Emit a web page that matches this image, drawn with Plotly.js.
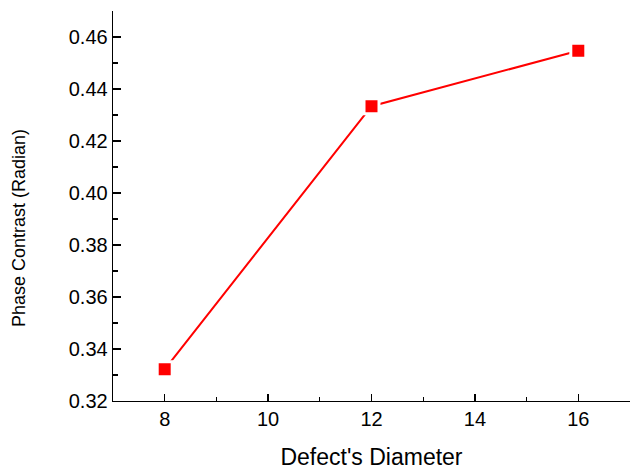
<!DOCTYPE html>
<html>
<head>
<meta charset="utf-8">
<script src="https://cdn.plot.ly/plotly-3.0.1.min.js"></script>
<style>html,body{margin:0;padding:0;background:#fff;}#chart{width:630px;height:471px;}</style>
</head>
<body>
<div id="chart"></div>
<script>
const diameters = [8, 12, 16];
const phaseContrast = [0.3322, 0.4334, 0.4547];
const xTickVals = [8, 10, 12, 14, 16];
const yTickVals = [0.32, 0.34, 0.36, 0.38, 0.40, 0.42, 0.44, 0.46];
const yTickText = ['0.32', '0.34', '0.36', '0.38', '0.40', '0.42', '0.44', '0.46'];
const xTitle = "Defect's Diameter";
const yTitle = 'Phase Contrast (Radian)';

const lineTrace = {
  x: diameters,
  y: phaseContrast,
  type: 'scatter',
  mode: 'lines',
  line: {color: '#ff0000', width: 2},
  showlegend: false
};
const markerTrace = {
  x: diameters,
  y: phaseContrast,
  type: 'scatter',
  mode: 'markers',
  marker: {symbol: 'square', size: 15, color: '#ff0000', line: {color: '#ffffff', width: 3}},
  cliponaxis: false,
  showlegend: false
};

const layout = {
  width: 630,
  height: 471,
  margin: {l: 113, r: 0, t: 11, b: 70},
  paper_bgcolor: '#ffffff',
  plot_bgcolor: '#ffffff',
  font: {family: 'Liberation Sans, Arial, sans-serif', color: '#000000'},
  xaxis: {
    range: [7, 17],
    tickvals: xTickVals,
    ticks: 'inside',
    ticklen: 7,
    tickwidth: 1.3,
    tickcolor: '#000',
    showline: true,
    linecolor: '#000',
    linewidth: 1.3,
    showgrid: false,
    zeroline: false,
    tickfont: {size: 20},
    minor: {ticks: 'inside', ticklen: 4, dtick: 1, tick0: 7, tickcolor: '#000', tickwidth: 1.3, showgrid: false},
    title: {text: xTitle, font: {size: 23}, standoff: 19}
  },
  yaxis: {
    range: [0.32, 0.47],
    tickvals: yTickVals,
    ticktext: yTickText,
    ticks: 'inside',
    ticklen: 8,
    tickwidth: 1.3,
    tickcolor: '#000',
    showline: true,
    linecolor: '#000',
    linewidth: 1.3,
    showgrid: false,
    zeroline: false,
    tickfont: {size: 20},
    minor: {ticks: 'inside', ticklen: 5, dtick: 0.01, tick0: 0.32, tickcolor: '#000', tickwidth: 1.3, showgrid: false}
  },
  annotations: [{
    text: yTitle,
    xref: 'paper', yref: 'paper',
    x: -0.1818, y: 0.4436,
    xanchor: 'center', yanchor: 'middle',
    textangle: -90,
    showarrow: false,
    font: {size: 18}
  }]
};

Plotly.newPlot('chart', [lineTrace, markerTrace], layout, {displayModeBar: false, staticPlot: true});
</script>
</body>
</html>
